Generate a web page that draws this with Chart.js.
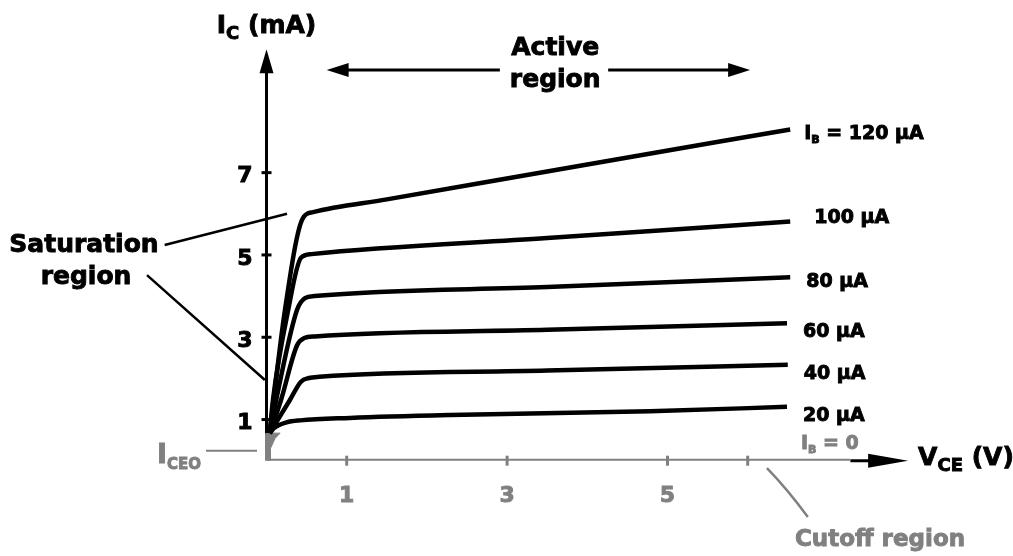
<!DOCTYPE html>
<html>
<head>
<meta charset="utf-8">
<script src="https://cdn.jsdelivr.net/npm/chart.js@4.4.1/dist/chart.umd.min.js"></script>
<style>
  html, body { margin: 0; background: #fff; }
  canvas { display: block; }
</style>
</head>
<body>
<canvas id="chart" width="1013" height="556"></canvas>
<script>
// collector characteristic curves, V_CE (V) vs I_C (mA)
const curveNames = ["120 µA", "100 µA", "80 µA", "60 µA", "40 µA", "20 µA"];
const ib120 = [{x:0.04,y:0.67},{x:0.23,y:3.66},{x:0.45,y:5.88},{x:0.58,y:6.04},{x:1.5,y:6.35},{x:4.0,y:7.2},{x:6.53,y:8.05}];
const ib100 = [{x:0.04,y:0.67},{x:0.08,y:1.47},{x:0.27,y:3.66},{x:0.43,y:4.93},{x:0.56,y:5.02},{x:3.5,y:5.41},{x:6.53,y:5.81}];
const ib80  = [{x:0.04,y:0.67},{x:0.12,y:1.47},{x:0.38,y:3.66},{x:0.48,y:3.95},{x:0.6,y:4.0},{x:3.5,y:4.22},{x:6.53,y:4.46}];
const ib60  = [{x:0.04,y:0.67},{x:0.18,y:1.47},{x:0.38,y:2.8},{x:0.47,y:2.98},{x:0.6,y:3.02},{x:3.5,y:3.18},{x:6.49,y:3.34}];
const ib40  = [{x:0.04,y:0.67},{x:0.29,y:1.47},{x:0.43,y:1.92},{x:0.53,y:2.01},{x:0.66,y:2.04},{x:3.5,y:2.19},{x:6.5,y:2.33}];
const ib20  = [{x:0.04,y:0.67},{x:0.1,y:0.8},{x:0.25,y:0.93},{x:0.42,y:0.98},{x:1.04,y:1.04},{x:2.29,y:1.11},{x:4.78,y:1.2},{x:6.49,y:1.31}];
const ib0   = [{x:0,y:0},{x:7.28,y:0}];
// leakage (I_CEO) patch near the origin: upper and lower edge
const iceoTop    = [{x:0,y:0.67},{x:0.044,y:0.67},{x:0.05,y:0.67},{x:0.106,y:0.67},{x:0.17,y:0.67}];
const iceoBottom = [{x:0,y:0},{x:0.044,y:0},{x:0.05,y:0.3},{x:0.106,y:0.54},{x:0.17,y:0.67}];
const xTickLabels = [1, 3, 5];
const xTickMarks = [1, 3, 5, 6];
const yTickLabels = [1, 3, 5, 7];

const curves = [ib120, ib100, ib80, ib60, ib40, ib20];
const labelDy = [5, -4, 5, 9, 9, 9];
const grey = "#808080";
const FONT = "'DejaVu Sans', sans-serif";

function arrowHead(ctx, x, y, dx, dy, len, half) {
  // tip at (x,y), pointing along (dx,dy)
  ctx.beginPath();
  ctx.moveTo(x, y);
  ctx.lineTo(x - dx * len - dy * half, y - dy * len + dx * half);
  ctx.lineTo(x - dx * len + dy * half, y - dy * len - dx * half);
  ctx.closePath();
  ctx.fill();
}

// heavy text: fill plus a thin stroke in the same colour
function heavy(ctx, t, x, y) {
  ctx.strokeStyle = ctx.fillStyle;
  ctx.lineWidth = 0.9;
  ctx.fillText(t, x, y);
  ctx.strokeText(t, x, y);
}

function subText(ctx, parts, x, y, size, align, subScale) {
  // parts: [text, isSub]
  const sc = subScale || 0.6;
  const fontOf = p => "bold " + Math.round(p[1] ? size * sc : size) + "px " + FONT;
  const widths = parts.map(p => { ctx.font = fontOf(p); return ctx.measureText(p[0]).width; });
  const total = widths.reduce((a, b) => a + b, 0);
  let cx = align === "center" ? x - total / 2 : align === "right" ? x - total : x;
  ctx.textAlign = "left";
  parts.forEach((p, i) => {
    ctx.font = fontOf(p);
    heavy(ctx, p[0], cx, p[1] ? y + size * 0.32 : y);
    cx += widths[i];
  });
}

const axesPlugin = {
  id: "axes",
  beforeDatasetsDraw(chart) {
    const { ctx, scales: { x, y } } = chart;
    const x0 = x.getPixelForValue(0), y0 = y.getPixelForValue(0);
    ctx.save();
    ctx.fillStyle = "#000";
    ctx.lineWidth = 3;
    // vertical axis: grey in the leakage patch, black above, with arrow
    const yTop = y.getPixelForValue(10);
    const yPatch = y.getPixelForValue(0.67);
    ctx.strokeStyle = grey;
    ctx.beginPath();
    ctx.moveTo(x0, y0);
    ctx.lineTo(x0, yPatch);
    ctx.stroke();
    ctx.strokeStyle = "#000";
    ctx.beginPath();
    ctx.moveTo(x0, yPatch);
    ctx.lineTo(x0, yTop + 18);
    ctx.stroke();
    arrowHead(ctx, x0, yTop, 0, -1, 24, 7);
    // black end of horizontal axis with arrow
    const xEnd = x.getPixelForValue(8);
    ctx.beginPath();
    ctx.moveTo(x.getPixelForValue(7.28), y0);
    ctx.lineTo(xEnd - 20, y0);
    ctx.stroke();
    arrowHead(ctx, xEnd, y0, 1, 0, 40, 7);
    // y tick marks and labels
    yTickLabels.forEach(v => {
      const py = y.getPixelForValue(v);
      ctx.lineWidth = 3;
      ctx.strokeStyle = "#000";
      ctx.beginPath();
      ctx.moveTo(x0 - 5, py);
      ctx.lineTo(x0 + 5, py);
      ctx.stroke();
      ctx.textAlign = "right";
      ctx.textBaseline = "middle";
      ctx.font = "bold 22px " + FONT;
      heavy(ctx, String(v), x0 - 14, py + 4);
    });
    // x tick marks and labels (grey)
    xTickMarks.forEach(v => {
      const px = x.getPixelForValue(v);
      ctx.lineWidth = 3;
      ctx.strokeStyle = grey;
      ctx.beginPath();
      ctx.moveTo(px, y0 - 5);
      ctx.lineTo(px, y0 + 5);
      ctx.stroke();
    });
    ctx.fillStyle = grey;
    ctx.textAlign = "center";
    ctx.textBaseline = "middle";
    ctx.font = "bold 22px " + FONT;
    xTickLabels.forEach(v => heavy(ctx, String(v), x.getPixelForValue(v), y0 + 36));
    ctx.restore();
  },
  afterDatasetsDraw(chart) {
    const { ctx, scales: { x, y } } = chart;
    const px = v => x.getPixelForValue(v), py = v => y.getPixelForValue(v);
    ctx.save();
    ctx.textBaseline = "middle";
    ctx.fillStyle = "#000";

    // curve labels
    curves.forEach((c, i) => {
      const last = c[c.length - 1];
      const lx = px(last.x) + 14, ly = py(last.y) + labelDy[i];
      if (i === 0) {
        subText(ctx, [["I", false], ["B", true], [" = " + curveNames[i], false]], lx, ly, 19, "left");
      } else {
        ctx.textAlign = "left";
        ctx.font = "bold 19px " + FONT;
        heavy(ctx, curveNames[i], lx + (i === 1 ? 10 : 2), ly);
      }
    });
    ctx.fillStyle = grey;
    subText(ctx, [["I", false], ["B", true], [" = 0", false]], px(6.49) + 14, py(0) - 17, 19, "left");

    // axis titles
    ctx.fillStyle = "#000";
    subText(ctx, [["I", false], ["C", true], [" (mA)", false]], px(0), 26, 25, "center", 0.7);
    subText(ctx, [["V", false], ["CE", true], [" (V)", false]], px(8) + 10, py(0) - 2, 25, "left", 0.7);

    // active region
    ctx.textAlign = "center";
    ctx.font = "bold 25px " + FONT;
    heavy(ctx, "Active", px(3.6), 48);
    heavy(ctx, "region", px(3.6), 80);
    ctx.strokeStyle = "#000";
    ctx.lineWidth = 3;
    const ay = 70;
    ctx.beginPath();
    ctx.moveTo(px(0.75) + 18, ay); ctx.lineTo(px(2.91), ay);
    ctx.moveTo(px(4.26), ay); ctx.lineTo(px(6.03) - 18, ay);
    ctx.stroke();
    arrowHead(ctx, px(0.75), ay, -1, 0, 22, 7);
    arrowHead(ctx, px(6.03), ay, 1, 0, 22, 7);

    // saturation region
    ctx.textAlign = "center";
    ctx.font = "bold 25px " + FONT;
    heavy(ctx, "Saturation", 84, 245);
    heavy(ctx, "region", 86, 277);
    ctx.strokeStyle = "#000";
    ctx.lineWidth = 2.5;
    ctx.beginPath();
    ctx.moveTo(px(-1.27), py(5.24)); ctx.lineTo(px(0.256), py(6.0));
    ctx.moveTo(px(-1.49), py(4.51)); ctx.lineTo(px(-0.02), py(1.96));
    ctx.stroke();

    // I_CEO and cutoff region (grey)
    ctx.fillStyle = grey;
    subText(ctx, [["I", false], ["CEO", true]], 157, 456, 27, "left", 0.55);
    ctx.strokeStyle = grey;
    ctx.lineWidth = 2;
    ctx.beginPath();
    ctx.moveTo(206, py(0.24)); ctx.lineTo(257, py(0.24));
    ctx.stroke();
    ctx.lineWidth = 2.5;
    ctx.beginPath();
    ctx.moveTo(px(6.24), py(-0.18));
    ctx.quadraticCurveTo(px(6.5), py(-0.7), px(6.75), py(-1.37));
    ctx.stroke();
    ctx.textAlign = "center";
    ctx.font = "bold 23px " + FONT;
    heavy(ctx, "Cutoff region", 880, 540);
    ctx.restore();
  }
};

const curveSets = curves.map((c, i) => ({
  label: curveNames[i],
  data: c,
  showLine: true,
  borderColor: "#000",
  borderWidth: 4.5,
  pointRadius: 0,
  cubicInterpolationMode: "monotone",
  order: 1
}));

new Chart(document.getElementById("chart"), {
  type: "scatter",
  data: {
    datasets: [
      ...curveSets,
      { label: "IB = 0", data: ib0, showLine: true, borderColor: grey, borderWidth: 4, pointRadius: 0, order: 2 },
      { label: "ICEO top", data: iceoTop, showLine: true, fill: "+1", backgroundColor: grey, borderColor: grey, borderWidth: 1, pointRadius: 0, order: 3 },
      { label: "ICEO bottom", data: iceoBottom, showLine: true, borderColor: grey, borderWidth: 1, pointRadius: 0, order: 3 }
    ]
  },
  options: {
    responsive: false,
    animation: false,
    layout: { padding: { left: 266.5, right: 104.9, top: 49.2, bottom: 95.3 } },
    scales: {
      x: { type: "linear", min: 0, max: 8, display: false },
      y: { type: "linear", min: 0, max: 10, display: false }
    },
    plugins: { legend: { display: false }, tooltip: { enabled: false } }
  },
  plugins: [axesPlugin]
});
</script>
</body>
</html>
